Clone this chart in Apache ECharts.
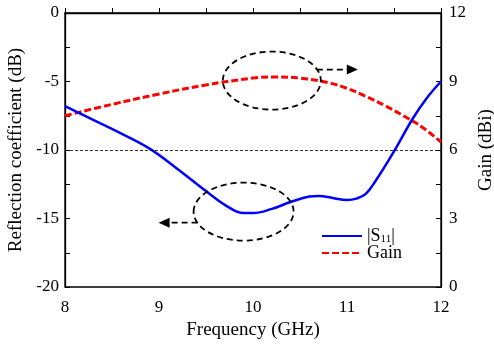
<!DOCTYPE html>
<html>
<head>
<meta charset="utf-8">
<script src="https://cdn.jsdelivr.net/npm/echarts@6/dist/echarts.min.js"></script>
<style>html,body{margin:0;padding:0;background:#fff;}#c{width:494px;height:347px;}</style>
</head>
<body>
<div id="c"></div>
<script>
const s11Freq = [8, 8.3, 8.6, 8.9, 9.2, 9.5, 9.7, 9.9, 10.0, 10.2, 10.4, 10.6, 10.7, 10.85, 11.0, 11.1, 11.2, 11.3, 11.5, 11.7, 11.85, 12];
const s11Vals = [-6.8, -7.8, -8.8, -9.9, -11.4, -13.0, -14.0, -14.6, -14.6, -14.3, -13.8, -13.4, -13.35, -13.5, -13.65, -13.55, -13.2, -12.3, -10.1, -7.7, -6.2, -5.0];
const gainFreq = [8, 8.5, 9, 9.5, 10, 10.2, 10.5, 10.8, 11.0, 11.2, 11.4, 11.6, 11.8, 12];
const gainVals = [7.5, 8.0, 8.45, 8.85, 9.15, 9.2, 9.15, 8.95, 8.7, 8.35, 7.95, 7.5, 7.0, 6.35];
const refLevel = -10;

const FONT = '"Liberation Serif", "Times New Roman", serif';
const chart = echarts.init(document.getElementById('c'), null, {renderer: 'canvas'});
const axisCommon = {
  axisLine: {show: true, lineStyle: {color: '#000', width: 1.3}},
  axisTick: {show: true, inside: true, length: 5, lineStyle: {color: '#000', width: 1}},
  minorTick: {show: true, splitNumber: 2, length: 5, lineStyle: {color: '#000', width: 1}},
  splitLine: {show: false},
  axisLabel: {color: '#000', fontFamily: FONT, fontSize: 17},
  nameTextStyle: {color: '#000', fontFamily: FONT, fontSize: 19}
};
chart.setOption({
  animation: false,
  backgroundColor: '#fff',
  grid: {left: 65, right: 53, top: 13, bottom: 60, show: true, borderColor: '#000', borderWidth: 1.3,
    containLabel: false, outerBoundsMode: 'none'},
  legend: {
    left: 321, top: 227, padding: 0, orient: 'vertical', itemWidth: 40, itemHeight: 12, itemGap: -1,
    itemStyle: {opacity: 0},
    textStyle: {color: '#000', fontFamily: FONT, fontSize: 18, lineHeight: 17,
      rich: {sub: {fontFamily: FONT, fontSize: 11, verticalAlign: 'bottom', lineHeight: 17, padding: [6, 0, 0, 0]}}},
    formatter: function (n) { return n === 'S11' ? '|S{sub|11}|' : n; },
    data: ['S11', 'Gain']
  },
  xAxis: Object.assign({}, axisCommon, {
    type: 'value', min: 8, max: 12, interval: 1,
    name: 'Frequency (GHz)', nameLocation: 'middle', nameGap: 32,
    axisLabel: Object.assign({}, axisCommon.axisLabel, {margin: 12})
  }),
  yAxis: [
    Object.assign({}, axisCommon, {
      type: 'value', min: -20, max: 0, interval: 5, position: 'left',
      name: 'Reflection coefficient (dB)', nameLocation: 'middle', nameGap: 35, nameRotate: 90,
      axisLabel: Object.assign({}, axisCommon.axisLabel, {margin: 6})
    }),
    Object.assign({}, axisCommon, {
      type: 'value', min: 0, max: 12, interval: 3, position: 'right',
      name: 'Gain (dBi)', nameLocation: 'middle', nameGap: 36, nameRotate: 90,
      axisLabel: Object.assign({}, axisCommon.axisLabel, {margin: 8})
    })
  ],
  series: [
    {
      name: 'S11', type: 'line', yAxisIndex: 0, smooth: 0.4, symbol: 'none',
      lineStyle: {color: '#0000ff', width: 2.5}, itemStyle: {color: '#0000ff'},
      data: s11Freq.map((f, i) => [f, s11Vals[i]]),
      markLine: {
        silent: true, symbol: 'none', label: {show: false},
        lineStyle: {color: '#000', width: 0.8, type: [3, 2]},
        data: [{yAxis: refLevel}]
      },
      z: 3
    },
    {
      name: 'Gain', type: 'line', yAxisIndex: 1, smooth: 0.4, symbol: 'none',
      lineStyle: {color: '#ff0000', width: 3, type: [7, 3]}, itemStyle: {color: '#ff0000'},
      data: gainFreq.map((f, i) => [f, gainVals[i]]),
      z: 2
    }
  ]
});

// annotations: dashed ellipses with arrows, positioned in data space
const up = chart.convertToPixel({gridIndex: 0}, [10.2, 0]);
const upY = chart.convertToPixel({yAxisIndex: 1}, 9.04);
const lo = chart.convertToPixel({gridIndex: 0}, [9.9, -14.5]);
const dash = {stroke: '#000', lineWidth: 1.8, lineDash: [6, 4], fill: null};
function ann(cx, cy, rx, ry, dir) {
  const els = [];
  els.push({type: 'ellipse', shape: {cx: cx, cy: cy, rx: rx, ry: ry}, style: Object.assign({}, dash), z: 10});
  if (dir > 0) {
    const y = cy - 11;
    els.push({type: 'line', shape: {x1: cx + rx - 4, y1: y, x2: cx + rx + 28, y2: y}, style: Object.assign({}, dash), z: 10});
    els.push({type: 'polygon', shape: {points: [[cx + rx + 26, y - 5], [cx + rx + 37, y], [cx + rx + 26, y + 5]]}, style: {fill: '#000'}, z: 10});
  } else {
    const y = cy + 11;
    els.push({type: 'line', shape: {x1: cx - rx + 4, y1: y, x2: cx - rx - 26, y2: y}, style: Object.assign({}, dash), z: 10});
    els.push({type: 'polygon', shape: {points: [[cx - rx - 24, y - 5], [cx - rx - 35, y], [cx - rx - 24, y + 5]]}, style: {fill: '#000'}, z: 10});
  }
  return els;
}
chart.setOption({
  graphic: [].concat(ann(up[0], upY, 49, 29, 1), ann(lo[0], lo[1], 50, 29, -1))
});
</script>
</body>
</html>
